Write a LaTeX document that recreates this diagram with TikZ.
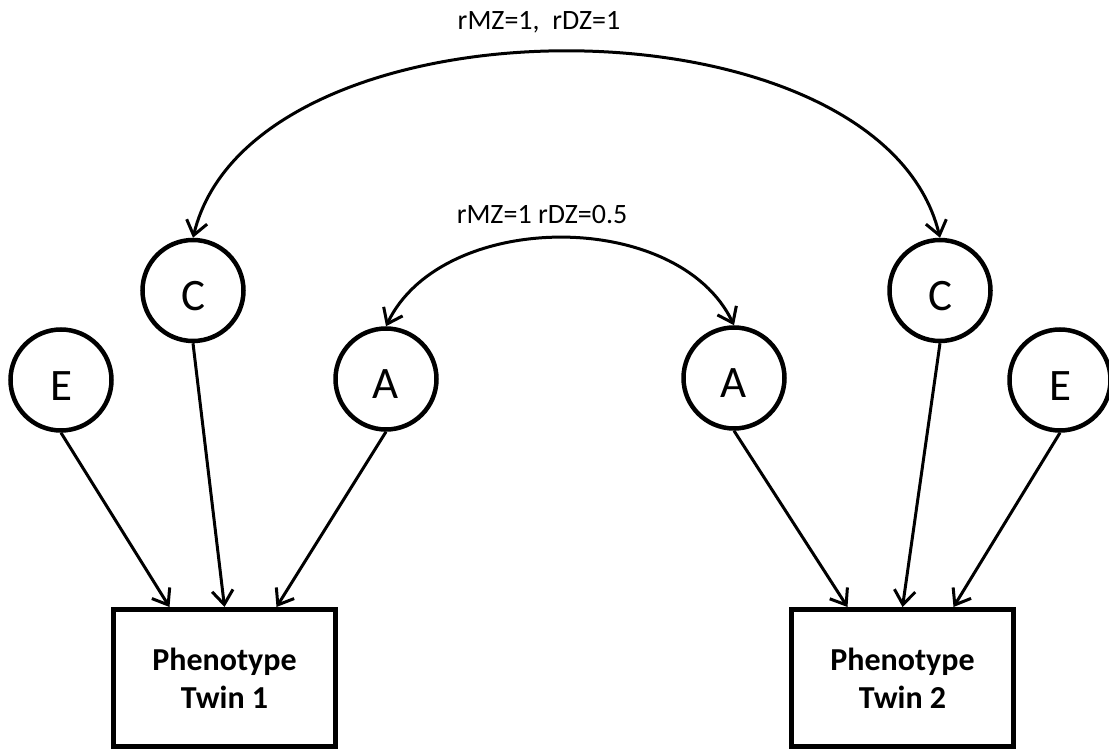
\documentclass[tikz,border=0pt]{standalone}
\usepackage{fontspec}
\setmainfont{Carlito}
\usetikzlibrary{arrows.meta,calc}
\begin{document}
\begin{tikzpicture}[x=1pt,y=-1pt,
  latent/.style={circle,draw,line width=4.5pt,minimum size=101pt,inner sep=0pt,
    font=\fontsize{45}{45}\selectfont,text height=40pt,text depth=0pt},
  pheno/.style={rectangle,draw,line width=5pt,minimum width=222pt,minimum height=137pt,
    inner sep=0pt,align=center,font=\fontsize{32}{38}\selectfont\bfseries},
  effect/.style={line width=3pt,-{Straight Barb[length=14pt,width=21pt]}},
  covar/.style={line width=3pt,{Straight Barb[length=14pt,width=21pt]}-{Straight Barb[length=14pt,width=21pt]}},
  lab/.style={font=\fontsize{28}{28}\selectfont,anchor=base,inner sep=0pt}]
\useasboundingbox (0,0) rectangle (1109,751);
\node[latent] (E1) at (61,380) {E};
\node[latent] (C1) at (193,290.5) {C};
\node[latent] (A1) at (386,379) {A};
\node[latent] (A2) at (734,378) {A};
\node[latent] (C2) at (940,290.5) {C};
\node[latent] (E2) at (1060,380) {E};
\node[pheno] (P1) at (224.5,678) {Phenotype\\Twin 1};
\node[pheno] (P2) at (902.5,678) {Phenotype\\Twin 2};
\draw[effect] (E1.south) -- ($(P1.north)+(-55,0)$);
\draw[effect] (C1.south) -- ($(P1.north)+(0,0)$);
\draw[effect] (A1.south) -- ($(P1.north)+(52,0)$);
\draw[effect] (A2.south) -- ($(P2.north)+(-55,0)$);
\draw[effect] (C2.south) -- ($(P2.north)+(0,0)$);
\draw[effect] (E2.south) -- ($(P2.north)+(51,0)$);
\draw[covar] (C1.north) .. controls +(60,-248) and +(-60,-248) .. (C2.north);
\draw[covar] (A1.north) .. controls +(56,-117) and +(-56,-117) .. (A2.north);
\node[lab] (l1) at (539,30) {rMZ=1,\ \ rDZ=1};
\node[lab] (l2) at (542,224) {rMZ=1 rDZ=0.5};
\end{tikzpicture}
\end{document}
